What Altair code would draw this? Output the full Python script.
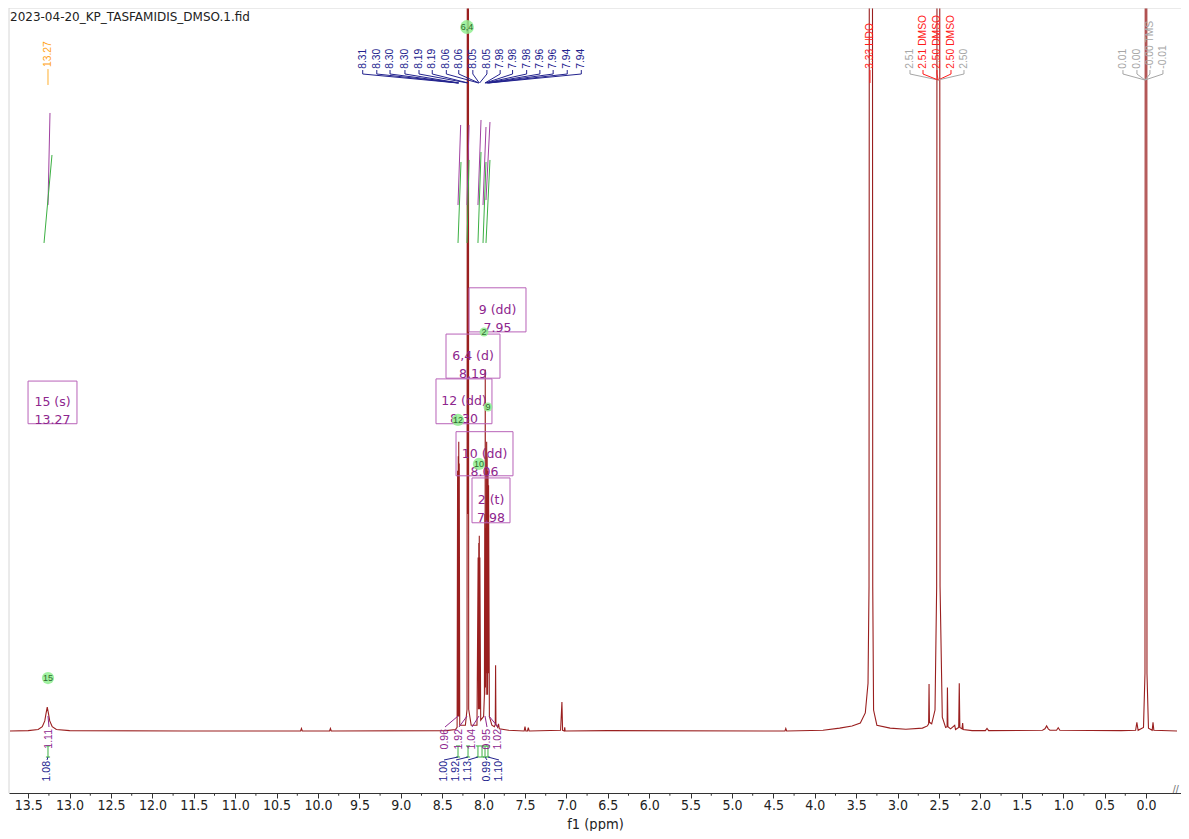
import altair as alt
import pandas as pd

# ---------------- data ----------------
TITLE = "2023-04-20_KP_TASFAMIDIS_DMSO.1.fid"
X_TITLE = "f1 (ppm)"

X_DOMAIN = [-0.423, 13.732]
Y_DOMAIN = [-8.575, 100.0]

MAJOR_TICKS = [13.5, 13.0, 12.5, 12.0, 11.5, 11.0, 10.5, 10.0, 9.5, 9.0, 8.5, 8.0,
               7.5, 7.0, 6.5, 6.0, 5.5, 5.0, 4.5, 4.0, 3.5, 3.0, 2.5, 2.0, 1.5, 1.0, 0.5, 0.0]
MINOR_TICKS = [13.25, 12.75, 12.25, 11.75, 11.25, 10.75, 10.25, 9.75, 9.25, 8.75, 8.25,
               7.75, 7.25, 6.75, 6.25, 5.75, 5.25, 4.75, 4.25, 3.75, 3.25, 2.75, 2.25,
               1.75, 1.25, 0.75, 0.25]

# spectrum trace (ppm, relative intensity)
SPEC_PPM = [13.72, 13.50, 13.38, 13.33, 13.30, 13.285, 13.27, 13.255, 13.24, 13.21, 13.16, 13.00,
            11.60, 10.21, 10.20, 10.19, 9.86, 9.85, 9.84, 8.45, 8.34, 8.320, 8.314, 8.310, 8.306,
            8.303, 8.300, 8.297, 8.294, 8.288, 8.22, 8.200, 8.193, 8.190, 8.187, 8.180, 8.150,
            8.080, 8.066, 8.062, 8.058, 8.055, 8.052, 8.049, 8.045, 8.035, 8.000, 7.990, 7.986,
            7.983, 7.980, 7.977, 7.974, 7.968, 7.963, 7.960, 7.957, 7.952, 7.946, 7.943, 7.940,
            7.930, 7.900, 7.870, 7.859, 7.855, 7.851, 7.830, 7.820, 7.810, 7.700, 7.510, 7.500,
            7.490, 7.470, 7.460, 7.450, 7.070, 7.054, 7.046, 7.025, 7.020, 7.015, 6.500, 4.360,
            4.350, 4.340, 3.900, 3.700, 3.550, 3.450, 3.390, 3.357, 3.345, 3.340, 3.305, 3.300,
            3.290, 3.250, 3.090, 2.900, 2.700, 2.640, 2.625, 2.620, 2.615, 2.588, 2.548, 2.528,
            2.520, 2.495, 2.487, 2.460, 2.420, 2.402, 2.398, 2.392, 2.360, 2.310, 2.300, 2.262,
            2.255, 2.248, 2.222, 2.214, 2.208, 2.100, 1.940, 1.920, 1.900, 1.250, 1.220, 1.200,
            1.180, 1.160, 1.080, 1.060, 1.040, 0.300, 0.125, 0.110, 0.095, 0.030, 0.012, 0.004,
            -0.006, -0.012, -0.030, -0.075, -0.085, -0.095, -0.375]
SPEC_INT = [0.0, 0.05, 0.2, 0.6, 1.4, 2.4, 3.3, 2.4, 1.4, 0.6, 0.2, 0.05,
            0.0, 0.0, 0.35, 0.0, 0.0, 0.35, 0.0, 0.05, 0.2, 0.5, 36.0, 2.0, 38.0,
            2.0, 40.0, 2.0, 37.0, 0.8, 0.8, 3.0, 250.0, 30.0, 250.0, 3.0, 0.8,
            0.8, 24.0, 3.0, 26.0, 3.0, 27.0, 3.0, 24.0, 1.5, 2.0, 5.0, 30.0,
            6.0, 50.0, 6.0, 28.0, 5.0, 40.0, 8.0, 38.0, 5.0, 36.0, 8.0, 34.0,
            2.0, 0.8, 0.6, 0.9, 9.1, 0.9, 0.5, 1.0, 0.3, 0.1, 0.0, 0.6,
            0.0, 0.0, 0.45, 0.0, 0.1, 4.0, 0.1, 0.0, 0.5, 0.0, 0.05, 0.0,
            0.35, 0.0, 0.1, 0.4, 0.7, 1.1, 2.5, 6.6, 20.0, 150.0, 150.0, 20.0,
            2.9, 0.8, 0.4, 0.25, 0.4, 0.7, 1.0, 6.5, 1.2, 1.0, 2.9, 20.0,
            200.0, 200.0, 20.0, 1.9, 0.5, 0.6, 6.0, 0.6, 0.3, 0.8, 0.2, 0.5,
            6.6, 0.5, 0.3, 1.1, 0.2, 0.05, 0.05, 0.35, 0.05, 0.1, 0.3, 0.7,
            0.3, 0.1, 0.1, 0.45, 0.1, 0.05, 0.1, 1.2, 0.1, 0.5, 8.0, 250.0,
            250.0, 8.0, 0.4, 0.1, 1.2, 0.1, 0.0]

# peak-pick labels above the aromatic multiplets
TOP_TEXT = ["8.31", "8.30", "8.30", "8.30", "8.19", "8.19", "8.06", "8.06", "8.05", "8.05",
            "7.98", "7.98", "7.98", "7.96", "7.96", "7.94", "7.94"]
TOP_LABEL_PPM = [9.46, 9.29, 9.13, 8.95, 8.78, 8.62, 8.45, 8.30, 8.13, 7.96, 7.80, 7.65,
                 7.48, 7.32, 7.16, 6.99, 6.82]
TOP_PEAK_PPM = [8.312, 8.305, 8.301, 8.297, 8.192, 8.188, 8.061, 8.057, 8.052, 8.048,
                7.984, 7.980, 7.976, 7.963, 7.959, 7.944, 7.940]

# solvent / reference labels
SOLV_TEXT = ["3.33 HDO", "2.51", "2.51 DMSO", "2.50 DMSO", "2.50 DMSO", "2.50",
             "0.01", "0.00", "-0.00 TMS", "-0.01"]
SOLV_LABEL_PPM = [3.333, 2.850, 2.693, 2.524, 2.355, 2.198, 0.278, 0.109, -0.048, -0.205]
SOLV_PEAK_PPM = [3.333, 2.51, 2.51, 2.51, 2.51, 2.51, 0.012, 0.012, 0.012, 0.012]
SOLV_COLOR = ["#ff1a1a", "#a6a6a6", "#ff1a1a", "#ff1a1a", "#ff1a1a", "#a6a6a6",
              "#a6a6a6", "#a6a6a6", "#a6a6a6", "#a6a6a6"]

# multiplet boxes
MULT_TEXT = ["15 (s)\n13.27", "12 (dd)\n8.30", "6,4 (d)\n8.19", "9 (dd)\n7.95",
             "10 (dd)\n8.06", "2 (t)\n7.98"]
MULT_X1 = [13.502, 8.575, 8.454, 8.176, 8.333, 8.140]
MULT_X2 = [12.911, 7.899, 7.802, 7.488, 7.645, 7.681]
MULT_Y1 = [48.4, 48.7, 54.9, 61.3, 41.4, 35.0]
MULT_Y2 = [42.5, 42.5, 48.8, 55.2, 35.3, 28.8]

# green assignment bubbles
ATOM_TEXT = ["15", "6,4", "2", "12", "9", "10"]
ATOM_PPM = [13.261, 8.200, 7.995, 8.309, 7.947, 8.056]
ATOM_INT = [7.33, 97.37, 55.19, 43.02, 44.81, 36.93]
ATOM_SIZE = [150, 190, 80, 150, 80, 150]

# integral curves (upper part): start/end points
INTC_X1 = [13.237, 8.277, 8.176, 8.031, 7.971, 7.923]
INTC_Y1 = [85.48, 83.82, 83.82, 84.51, 83.54, 84.23]
INTC_X2 = [13.261, 8.309, 8.200, 8.068, 8.007, 7.971]
INTC_Y2 = [72.75, 72.75, 72.75, 72.75, 72.75, 73.44]
INTG_X1 = [13.213, 8.273, 8.176, 8.031, 7.971, 7.923]
INTG_Y1 = [79.67, 78.70, 78.98, 80.08, 78.70, 78.98]
INTG_X2 = [13.309, 8.309, 8.200, 8.068, 8.007, 7.971]
INTG_Y2 = [67.50, 67.50, 67.50, 67.50, 67.50, 67.50]

# integral values below the baseline
MI_TEXT = ["1.11", "0.96", "1.92", "1.04", "0.95", "1.02"]
MI_LABEL_PPM = [13.249, 8.466, 8.297, 8.140, 7.959, 7.826]
MI_PEAK_PPM = [13.261, 8.309, 8.200, 8.056, 7.983, 7.935]
GI_PPM = [13.261, 8.309, 8.188, 8.068, 8.019, 7.983, 7.947]
BI_TEXT = ["1.08", "1.00", "1.92", "1.13", "0.99", "1.10"]
BI_LABEL_PPM = [13.273, 8.478, 8.333, 8.188, 7.959, 7.814]
BI_TARGET_PPM = [13.261, 8.309, 8.188, 8.068, 7.983, 7.947]

# ---------------- chart ----------------
XS = alt.Scale(domain=X_DOMAIN, reverse=True, nice=False, zero=False)
YS = alt.Scale(domain=Y_DOMAIN, nice=False, zero=False)

LABEL_FONT = "Liberation Sans"
AXIS_FONT = "Liberation Sans Narrow, DejaVu Sans Condensed, Liberation Sans"
BLUE = "#23238e"
PURPLE = "#8e268e"
BOX_STROKE = "#b862b8"
GREEN = "#3cb043"
FRAME = "#d6d6d6"

x_axis = alt.Axis(
    values=MAJOR_TICKS,
    format=".1f",
    tickSize=5,
    grid=False,
    labelFont=AXIS_FONT,
    labelFontSize=14,
    labelColor="#222222",
    labelPadding=0,
    labelOverlap=False,
    labelFlush=False,
    domainColor="#333333",
    tickColor="#333333",
    titleFont=AXIS_FONT,
    titleFontSize=14.5,
    titleFontWeight="normal",
    titleColor="#222222",
    titlePadding=5,
)


def xq(field, axis=x_axis, title=X_TITLE):
    return alt.X(f"{field}:Q", scale=XS, axis=axis, title=title)


def yq(field):
    return alt.Y(f"{field}:Q", scale=YS, axis=None, title=None)


spec_df = pd.DataFrame({"ppm": SPEC_PPM, "inten": SPEC_INT, "idx": list(range(len(SPEC_PPM)))})
spectrum = alt.Chart(spec_df).mark_line(color="#9a1f1f", strokeWidth=1.1, clip=True).encode(
    x=xq("ppm"), y=yq("inten"), order="idx:Q"
)

# frame (top / left) and minor ticks
frame_df = pd.DataFrame({
    "x1": [X_DOMAIN[1], X_DOMAIN[1]], "x2": [X_DOMAIN[0], X_DOMAIN[1]],
    "y1": [Y_DOMAIN[1], Y_DOMAIN[1]], "y2": [Y_DOMAIN[1], Y_DOMAIN[0]],
})
frame = alt.Chart(frame_df).mark_rule(color=FRAME, strokeWidth=1).encode(
    x=xq("x1"), x2="x2:Q", y=yq("y1"), y2="y2:Q"
)
minor_df = pd.DataFrame({"x": MINOR_TICKS, "y1": [Y_DOMAIN[0]] * len(MINOR_TICKS),
                         "y2": [Y_DOMAIN[0] - 0.38] * len(MINOR_TICKS)})
minor_ticks = alt.Chart(minor_df).mark_rule(color="#333333", strokeWidth=1).encode(
    x=xq("x"), y=yq("y1"), y2="y2:Q"
)

# multiplet boxes and their text
mult_df = pd.DataFrame({
    "x1": MULT_X1, "x2": MULT_X2, "y1": MULT_Y1, "y2": MULT_Y2, "t": MULT_TEXT,
    "xc": [(a + b) / 2 for a, b in zip(MULT_X1, MULT_X2)],
    "yc": [(a + b) / 2 for a, b in zip(MULT_Y1, MULT_Y2)],
})
boxes = alt.Chart(mult_df).mark_rect(fillOpacity=0, stroke=BOX_STROKE, strokeWidth=1).encode(
    x=xq("x1"), x2="x2:Q", y=yq("y1"), y2="y2:Q"
)
box_text = alt.Chart(mult_df).mark_text(
    font="DejaVu Sans", fontSize=12.5, color=PURPLE, lineBreak="\n", lineHeight=18,
    align="center", baseline="middle"
).encode(x=xq("xc"), y=yq("yc"), text="t:N")

# integral curves
intc_df = pd.DataFrame({"x1": INTC_X1 + INTG_X1, "y1": INTC_Y1 + INTG_Y1,
                        "x2": INTC_X2 + INTG_X2, "y2": INTC_Y2 + INTG_Y2,
                        "c": ["#a040a0"] * len(INTC_X1) + [GREEN] * len(INTG_X1)})
int_curves = alt.Chart(intc_df).mark_rule(strokeWidth=1).encode(
    x=xq("x1"), x2="x2:Q", y=yq("y1"), y2="y2:Q", color=alt.Color("c:N", scale=None)
)

# top labels
LBL_BASE = 91.6
TICK_TOP, TICK_BOT = 91.42, 90.87
top_df = pd.DataFrame({"x": TOP_LABEL_PPM, "t": TOP_TEXT, "y": [LBL_BASE] * len(TOP_TEXT)})
top_text = alt.Chart(top_df).mark_text(
    angle=270, align="left", baseline="middle", font=LABEL_FONT, fontSize=10.3, color=BLUE
).encode(x=xq("x"), y=yq("y"), text="t:N")

seg_rows = []
for lp, pp in zip(TOP_LABEL_PPM, TOP_PEAK_PPM):
    seg_rows.append({"x1": lp, "x2": lp, "y1": TICK_TOP, "y2": TICK_BOT, "c": BLUE})
    seg_rows.append({"x1": lp, "x2": pp, "y1": TICK_BOT, "y2": 89.63, "c": BLUE})
for lp, pp, col, t in zip(SOLV_LABEL_PPM, SOLV_PEAK_PPM, SOLV_COLOR, SOLV_TEXT):
    if t.endswith("HDO"):
        seg_rows.append({"x1": lp, "x2": lp, "y1": TICK_TOP, "y2": 89.63, "c": col})
    else:
        seg_rows.append({"x1": lp, "x2": lp, "y1": TICK_TOP, "y2": TICK_BOT, "c": col})
        seg_rows.append({"x1": lp, "x2": pp, "y1": TICK_BOT, "y2": 90.04, "c": col})
seg_rows.append({"x1": 13.261, "x2": 13.261, "y1": 91.56, "y2": 89.35, "c": "#ffb030"})
for lp, pp in zip(MI_LABEL_PPM, MI_PEAK_PPM):
    seg_rows.append({"x1": lp, "x2": pp, "y1": 0.55, "y2": 2.07, "c": PURPLE})
for gp in GI_PPM:
    seg_rows.append({"x1": gp, "x2": gp, "y1": -2.07, "y2": -3.60, "c": GREEN})
    seg_rows.append({"x1": gp - 0.025, "x2": gp + 0.025, "y1": -2.07, "y2": -2.07, "c": GREEN})
    seg_rows.append({"x1": gp - 0.025, "x2": gp + 0.025, "y1": -3.60, "y2": -3.60, "c": GREEN})
for lp, tp in zip(BI_LABEL_PPM, BI_TARGET_PPM):
    seg_rows.append({"x1": lp, "x2": tp, "y1": -4.01, "y2": -3.60, "c": BLUE})
seg_df = pd.DataFrame(seg_rows)
segments = alt.Chart(seg_df).mark_rule(strokeWidth=1).encode(
    x=xq("x1"), x2="x2:Q", y=yq("y1"), y2="y2:Q", color=alt.Color("c:N", scale=None)
)

solv_df = pd.DataFrame({"x": SOLV_LABEL_PPM, "t": SOLV_TEXT, "c": SOLV_COLOR,
                        "y": [LBL_BASE] * len(SOLV_TEXT)})
solv_text = alt.Chart(solv_df).mark_text(
    angle=270, align="left", baseline="middle", font=LABEL_FONT, fontSize=10.3
).encode(x=xq("x"), y=yq("y"), text="t:N", color=alt.Color("c:N", scale=None))

orange_df = pd.DataFrame({"x": [13.261], "y": [91.84], "t": ["13.27"]})
orange_text = alt.Chart(orange_df).mark_text(
    angle=270, align="left", baseline="middle", font=LABEL_FONT, fontSize=10.3, color="#ffa31a"
).encode(x=xq("x"), y=yq("y"), text="t:N")

mi_df = pd.DataFrame({"x": MI_LABEL_PPM, "t": MI_TEXT, "y": [0.28] * len(MI_TEXT)})
mi_text = alt.Chart(mi_df).mark_text(
    angle=270, align="right", baseline="middle", font=LABEL_FONT, fontSize=10.5, color=PURPLE
).encode(x=xq("x"), y=yq("y"), text="t:N")
bi_df = pd.DataFrame({"x": BI_LABEL_PPM, "t": BI_TEXT, "y": [-4.15] * len(BI_TEXT)})
bi_text = alt.Chart(bi_df).mark_text(
    angle=270, align="right", baseline="middle", font=LABEL_FONT, fontSize=10.5, color=BLUE
).encode(x=xq("x"), y=yq("y"), text="t:N")

atom_df = pd.DataFrame({"x": ATOM_PPM, "y": ATOM_INT, "t": ATOM_TEXT, "s": ATOM_SIZE})
bubbles = alt.Chart(atom_df).mark_circle(color="#90ee90", opacity=0.85).encode(
    x=xq("x"), y=yq("y"), size=alt.Size("s:Q", scale=None, legend=None)
)
bubble_text = alt.Chart(atom_df).mark_text(
    font=LABEL_FONT, fontSize=9, color="#2e6b2e", align="center", baseline="middle"
).encode(x=xq("x"), y=yq("y"), text="t:N")

title_df = pd.DataFrame({"x": [13.72], "y": [98.76], "t": [TITLE]})
title_text = alt.Chart(title_df).mark_text(
    font="DejaVu Sans", fontSize=12, color="#222222", align="left", baseline="middle"
).encode(x=xq("x"), y=yq("y"), text="t:N")
brk_df = pd.DataFrame({"x": [-0.36], "y": [-8.2], "t": ["//"]})
brk_text = alt.Chart(brk_df).mark_text(
    font=LABEL_FONT, fontSize=11, color="#777777", align="center", baseline="middle"
).encode(x=xq("x"), y=yq("y"), text="t:N")

chart = alt.layer(
    spectrum, frame, minor_ticks, boxes, box_text, int_curves, segments, top_text, solv_text,
    orange_text, mi_text, bi_text, bubbles, bubble_text, title_text, brk_text
).properties(
    width=1172, height=785,
    padding={"left": 1, "top": 0, "right": 0, "bottom": 38},
    autosize=alt.AutoSizeParams(type="none"),
    background="white",
).configure_view(strokeWidth=0)

chart.save("out.html", embed_options={"renderer": "svg", "actions": False})
